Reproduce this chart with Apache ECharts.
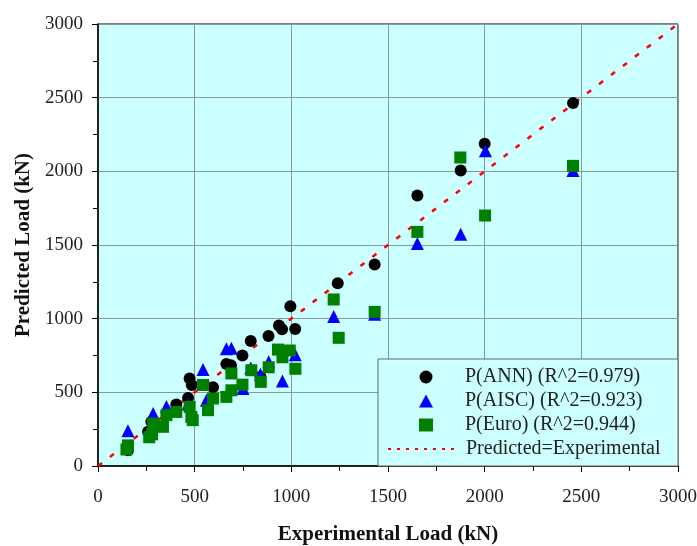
<!DOCTYPE html>
<html>
<head>
<meta charset="utf-8">
<script src="https://cdn.jsdelivr.net/npm/echarts@6/dist/echarts.min.js"></script>
<style>html,body{margin:0;padding:0;background:#fff}#c{width:697px;height:546px}</style>
</head>
<body>
<div id="c"></div>
<script>
const xTicks = [0, 500, 1000, 1500, 2000, 2500, 3000];
const yTicks = [0, 500, 1000, 1500, 2000, 2500, 3000];

const annX = [155, 259, 276, 405, 466, 474, 485, 595, 664, 688, 747, 790, 840, 882, 936, 952, 1020, 995, 1240, 1431, 1652, 1876, 2000, 2457];
const annY = [107, 232, 300, 418, 462, 594, 550, 535, 692, 683, 750, 849, 605, 883, 953, 928, 930, 1085, 1240, 1367, 1836, 2006, 2187, 2463];

const aiscX = [155, 285, 354, 466, 543, 561, 664, 690, 750, 790, 840, 883, 954, 1020, 1219, 1431, 1652, 1876, 2004, 2457];
const aiscY = [240, 356, 403, 420, 655, 447, 795, 800, 526, 665, 622, 707, 577, 755, 1015, 1030, 1510, 1573, 2140, 2005];

const euroX = [147, 155, 265, 280, 285, 336, 354, 405, 474, 483, 490, 543, 569, 595, 664, 690, 690, 747, 793, 842, 883, 931, 954, 992, 1021, 1219, 1245, 1431, 1652, 1874, 2002, 2457];
const euroY = [112, 140, 195, 215, 288, 266, 345, 367, 401, 333, 311, 550, 379, 458, 469, 514, 628, 552, 650, 571, 670, 790, 738, 784, 660, 1130, 870, 1046, 1589, 2094, 1700, 2037];

const lineX = [0, 3000];
const lineY = [0, 3000];

const names = ['P(ANN) (R^2=0.979)', 'P(AISC) (R^2=0.923)', 'P(Euro) (R^2=0.944)', 'Predicted=Experimental'];

const zip = (a, b) => a.map((v, i) => [v, b[i]]);
const serif = 'Liberation Serif, Times New Roman, serif';

const axisCommon = {
  axisLine: {show: true, lineStyle: {color: '#000', width: 1.5}},
  axisTick: {show: true, length: 6, lineStyle: {color: '#000'}},
  minorTick: {show: true, splitNumber: 2, length: 5, lineStyle: {color: '#000'}},
  splitLine: {show: true, lineStyle: {color: '#889999', width: 1}},
  nameLocation: 'middle',
  nameTextStyle: {fontFamily: serif, fontWeight: 'bold', fontSize: 21, color: '#111'}
};

const chart = echarts.init(document.getElementById('c'), null, {renderer: 'canvas'});
chart.setOption({
  animation: false,
  backgroundColor: '#fff',
  grid: {left: 98, right: 19, top: 24, bottom: 80, show: true, outerBoundsMode: 'none', containLabel: false,
         backgroundColor: '#ccffff', borderColor: '#000', borderWidth: 1},
  xAxis: Object.assign({
    type: 'value', min: xTicks[0], max: xTicks[xTicks.length - 1], interval: 500,
    name: 'Experimental Load (kN)', nameGap: 58,
    axisLabel: {fontFamily: serif, fontSize: 19, color: '#222', margin: 22, formatter: v => String(v)}
  }, axisCommon),
  yAxis: Object.assign({
    type: 'value', min: yTicks[0], max: yTicks[yTicks.length - 1], interval: 500,
    name: 'Predicted Load (kN)', nameGap: 64,
    axisLabel: {fontFamily: serif, fontSize: 19, color: '#222', margin: 15, formatter: v => String(v)}
  }, axisCommon),
  graphic: [{
    type: 'rect', z: 3, silent: true,
    shape: {x: 378, y: 359, width: 300, height: 107},
    style: {fill: '#ccffff', stroke: '#666', lineWidth: 1}
  }],
  legend: [{
    orient: 'vertical', left: 419, top: 365,
    data: names.slice(0, 3),
    padding: 0, itemWidth: 14, itemHeight: 13, itemGap: 0,
    textStyle: {fontFamily: serif, fontSize: 20, color: '#222', lineHeight: 24, padding: [0, 0, 0, 27]}
  }, {
    orient: 'vertical', left: 387, top: 437,
    data: [{name: names[3], itemStyle: {opacity: 0}}],
    padding: 0, itemWidth: 70, itemHeight: 13, itemGap: 0,
    lineStyle: {type: [3, 6], width: 2},
    textStyle: {fontFamily: serif, fontSize: 20, color: '#222', lineHeight: 24, padding: [0, 0, 0, 3]}
  }],
  series: [
    {name: names[3], type: 'line', data: zip(lineX, lineY), symbol: 'none', z: 1,
     lineStyle: {color: '#ff0000', width: 2.5, type: [5, 10]}, itemStyle: {color: '#ff0000'}},
    {name: names[0], type: 'scatter', data: zip(annX, annY), symbol: 'circle', symbolSize: 12, z: 2,
     itemStyle: {color: '#000', opacity: 1}},
    {name: names[1], type: 'scatter', data: zip(aiscX, aiscY), symbol: 'triangle', symbolSize: 13, z: 2,
     itemStyle: {color: '#0000ff', opacity: 1}},
    {name: names[2], type: 'scatter', data: zip(euroX, euroY), symbol: 'rect', symbolSize: 12, z: 2,
     itemStyle: {color: '#008000', opacity: 1}}
  ]
});
</script>
</body>
</html>
